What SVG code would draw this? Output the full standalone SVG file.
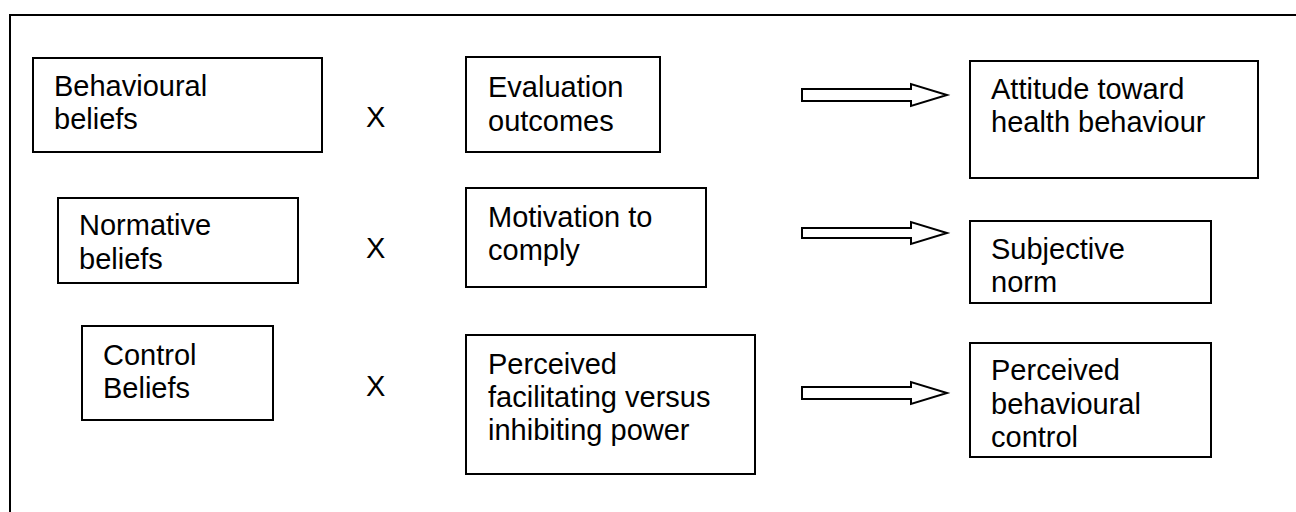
<svg xmlns="http://www.w3.org/2000/svg" width="1296" height="512" viewBox="0 0 1296 512">
<style>
.box{fill:#fff;stroke:#000;stroke-width:2}
.t{font-family:"Liberation Sans",Arial,sans-serif;font-size:29px;fill:#000}
.arr{fill:#fff;stroke:#000;stroke-width:2;stroke-linejoin:miter}
.frame{fill:none;stroke:#000;stroke-width:2}
</style>
<rect width="1296" height="512" fill="#fff"/>
<path class="frame" d="M10,512 V15 H1300"/>
<g id="behavioural-beliefs"><rect class="box" x="33" y="58" width="289" height="94"/><text class="t" x="54" y="96">Behavioural</text><text class="t" x="54" y="129">beliefs</text></g>
<g id="x1"><text class="t" x="366" y="127">X</text></g>
<g id="evaluation-outcomes"><rect class="box" x="466" y="57" width="194" height="95"/><text class="t" x="488" y="97">Evaluation</text><text class="t" x="488" y="131">outcomes</text></g>
<g id="attitude"><rect class="box" x="970" y="61" width="288" height="117"/><text class="t" x="991" y="99">Attitude toward</text><text class="t" x="991" y="132">health behaviour</text></g>
<g id="normative-beliefs"><rect class="box" x="58" y="198" width="240" height="85"/><text class="t" x="79" y="235">Normative</text><text class="t" x="79" y="269">beliefs</text></g>
<g id="x2"><text class="t" x="366" y="258">X</text></g>
<g id="motivation"><rect class="box" x="466" y="188" width="240" height="99"/><text class="t" x="488" y="227">Motivation to</text><text class="t" x="488" y="260">comply</text></g>
<g id="subjective-norm"><rect class="box" x="970" y="221" width="241" height="82"/><text class="t" x="991" y="259">Subjective</text><text class="t" x="991" y="292">norm</text></g>
<g id="control-beliefs"><rect class="box" x="82" y="326" width="191" height="94"/><text class="t" x="103" y="365">Control</text><text class="t" x="103" y="398">Beliefs</text></g>
<g id="x3"><text class="t" x="366" y="396">X</text></g>
<g id="perceived-power"><rect class="box" x="466" y="335" width="289" height="139"/><text class="t" x="488" y="374">Perceived</text><text class="t" x="488" y="407">facilitating versus</text><text class="t" x="488" y="440">inhibiting power</text></g>
<g id="pbc"><rect class="box" x="970" y="343" width="241" height="114"/><text class="t" x="991" y="380">Perceived</text><text class="t" x="991" y="414">behavioural</text><text class="t" x="991" y="447">control</text></g>
<g id="connectors">
<path class="arr" d="M802,89 H911 V84 L947,95 L911,106 V101 H802 Z"/>
<path class="arr" d="M802,228 H911 V222 L947,233 L911,244 V238 H802 Z"/>
<path class="arr" d="M802,387 H911 V382 L947,393 L911,404 V399 H802 Z"/>
</g>
</svg>
